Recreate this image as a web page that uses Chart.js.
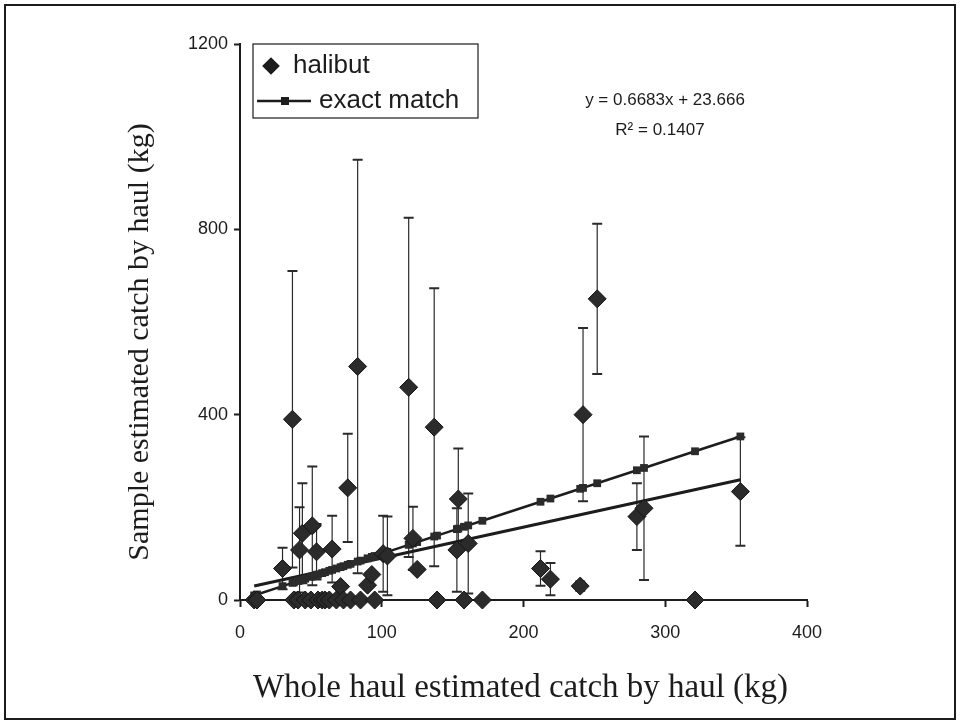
<!DOCTYPE html>
<html>
<head>
<meta charset="utf-8">
<script src="https://cdn.jsdelivr.net/npm/chart.js@4.4.0/dist/chart.umd.min.js"></script>
<style>
  html, body { margin: 0; padding: 0; background: #fff; }
  canvas { display: block; }
</style>
</head>
<body>
<canvas id="haul_chart" width="960" height="727"></canvas>
<script>
// whole haul estimate (kg) per haul, sorted
const wholeHaul = [10, 12, 30, 37, 38, 41, 42, 44, 46, 50, 51, 54, 55, 58, 60, 63, 65, 68, 71, 73,
  76, 78, 83, 85, 90, 93, 95, 101, 104, 119, 122, 125, 137, 139, 153, 154, 158, 161, 171,
  212, 219, 240, 242, 252, 280, 285, 321, 353];
// sample based estimate (kg) for the same hauls
const sampleCatch = [0, 0, 68, 390, 0, 0, 108, 144, 0, 0, 160, 104, 0, 0, 0, 0, 110, 0, 29, 0,
  242, 0, 504, 0, 32, 55, 0, 100, 95, 459, 133, 66, 373, 0, 108, 218, 0, 122, 0,
  68, 45, 30, 400, 650, 180, 198, 0, 234];
// +/- error on the sample estimate
const sampleErr = [0, 0, 45, 320, 0, 0, 92, 108, 0, 0, 128, 60, 0, 0, 0, 0, 72, 0, 0, 0,
  117, 0, 446, 0, 0, 0, 0, 82, 85, 366, 68, 0, 300, 0, 90, 109, 0, 108, 0,
  37, 35, 10, 187, 162, 72, 155, 0, 117];
// 1:1 reference line
const exactMatch = [10, 12, 30, 37, 38, 41, 42, 44, 46, 50, 51, 54, 55, 58, 60, 63, 65, 68, 71, 73,
  76, 78, 83, 85, 90, 93, 95, 101, 104, 119, 122, 125, 137, 139, 153, 154, 158, 161, 171,
  212, 219, 240, 242, 252, 280, 285, 321, 353];

const trendSlope = 0.6683;
const trendIntercept = 23.666;
const trendR2 = 0.1407;

const xRange = [0, 400];
const yRange = [0, 1200];

const ink = '#1c1c1c';
const sans = 'Liberation Sans, Arial, sans-serif';
const serif = 'Liberation Serif, Times New Roman, serif';

const halibutPts = wholeHaul.map((x, i) => ({ x: x, y: sampleCatch[i] }));
const exactPts = wholeHaul.map((x, i) => ({ x: x, y: exactMatch[i] }));
const xLo = wholeHaul[0], xHi = wholeHaul[wholeHaul.length - 1];
const trendPts = [
  { x: xLo, y: trendSlope * xLo + trendIntercept },
  { x: xHi, y: trendSlope * xHi + trendIntercept }
];

// vertical error bars with caps, under the markers
const errorBars = {
  id: 'errorBars',
  beforeDatasetsDraw(chart) {
    const ctx = chart.ctx;
    const meta = chart.getDatasetMeta(0);
    const ys = chart.scales.y;
    ctx.save();
    ctx.strokeStyle = '#2a2a2a';
    meta.data.forEach((pt, i) => {
      const err = sampleErr[i];
      if (!err) return;
      const top = ys.getPixelForValue(sampleCatch[i] + err);
      const bot = ys.getPixelForValue(sampleCatch[i] - err);
      ctx.lineWidth = 1.2;
      ctx.beginPath();
      ctx.moveTo(pt.x, top);
      ctx.lineTo(pt.x, bot);
      ctx.stroke();
      ctx.lineWidth = 2;
      ctx.beginPath();
      ctx.moveTo(pt.x - 5, top); ctx.lineTo(pt.x + 5, top);
      ctx.moveTo(pt.x - 5, bot); ctx.lineTo(pt.x + 5, bot);
      ctx.stroke();
    });
    ctx.restore();
  }
};

// outer frame, axis titles, legend box and regression text
const frameText = {
  id: 'frameText',
  afterDraw(chart) {
    const ctx = chart.ctx;
    const area = chart.chartArea;
    ctx.save();
    ctx.strokeStyle = ink;
    ctx.lineWidth = 2;
    ctx.strokeRect(5, 5, 950, 714);

    ctx.fillStyle = ink;
    ctx.textAlign = 'center';
    ctx.textBaseline = 'middle';
    ctx.font = '33px ' + serif;
    ctx.fillText('Whole haul estimated catch by haul (kg)', (area.left + area.right) / 2 - 3, 688);
    ctx.save();
    ctx.translate(140, 342);
    ctx.rotate(-Math.PI / 2);
    ctx.font = '30px ' + serif;
    ctx.fillText('Sample estimated catch by haul (kg)', 0, 0);
    ctx.restore();

    ctx.font = '17px ' + sans;
    ctx.fillText('y = ' + trendSlope + 'x + ' + trendIntercept, 665, 100);
    ctx.fillText('R\u00b2 = ' + trendR2, 660, 130);

    // legend
    const lx = area.left + 13, ly = area.top;
    ctx.lineWidth = 1.2;
    ctx.strokeRect(lx, ly, 225, 74);
    const ds = chart.data.datasets;
    ctx.textAlign = 'left';
    ctx.font = '26px ' + sans;
    ctx.fillText(ds[0].label, lx + 40, ly + 22);
    ctx.fillText(ds[1].label, lx + 66, ly + 57);
    Chart.helpers.drawPoint(ctx, { pointStyle: 'rectRot', radius: 8, borderWidth: 1 }, lx + 18, ly + 22);
    ctx.lineWidth = 2.5;
    ctx.beginPath();
    ctx.moveTo(lx + 4, ly + 57);
    ctx.lineTo(lx + 58, ly + 57);
    ctx.stroke();
    ctx.fillRect(lx + 28, ly + 53, 8, 8);
    ctx.restore();
  }
};

new Chart(document.getElementById('haul_chart').getContext('2d'), {
  type: 'scatter',
  data: {
    datasets: [{
      label: 'halibut',
      data: halibutPts,
      pointStyle: 'rectRot',
      pointRadius: 9,
      pointBackgroundColor: '#2b2b2b',
      pointBorderColor: '#151515',
      pointBorderWidth: 1,
      showLine: false,
      clip: false
    }, {
      label: 'exact match',
      data: exactPts,
      showLine: true,
      borderColor: ink,
      borderWidth: 2.5,
      pointStyle: 'rect',
      pointRadius: 5.5,
      pointBackgroundColor: '#2b2b2b',
      pointBorderColor: '#2b2b2b',
      pointBorderWidth: 0,
      clip: false
    }, {
      label: 'trend',
      data: trendPts,
      showLine: true,
      borderColor: ink,
      borderWidth: 3,
      pointRadius: 0,
      clip: false
    }]
  },
  options: {
    responsive: false,
    animation: false,
    events: [],
    layout: { padding: { top: 44, right: 153, left: 10, bottom: 10 } },
    plugins: {
      legend: { display: false },
      tooltip: { enabled: false }
    },
    scales: {
      x: {
        type: 'linear',
        min: xRange[0],
        max: xRange[1],
        ticks: { stepSize: 100, color: ink, font: { family: sans, size: 18 }, padding: 15,
          callback: v => String(v) },
        grid: { drawOnChartArea: false, drawTicks: true, tickLength: 7, tickWidth: 2, tickColor: ink },
        border: { display: true, color: ink, width: 2 },
        afterFit: s => { s.height = 117; }
      },
      y: {
        type: 'linear',
        min: yRange[0],
        max: yRange[1],
        ticks: { stepSize: 400, color: ink, font: { family: sans, size: 18 }, padding: 6,
          callback: v => String(v) },
        grid: { drawOnChartArea: false, drawTicks: true, tickLength: 6, tickWidth: 2, tickColor: ink },
        border: { display: true, color: ink, width: 2 },
        afterFit: s => { s.width = 230; }
      }
    }
  },
  plugins: [errorBars, frameText]
});
</script>
</body>
</html>
